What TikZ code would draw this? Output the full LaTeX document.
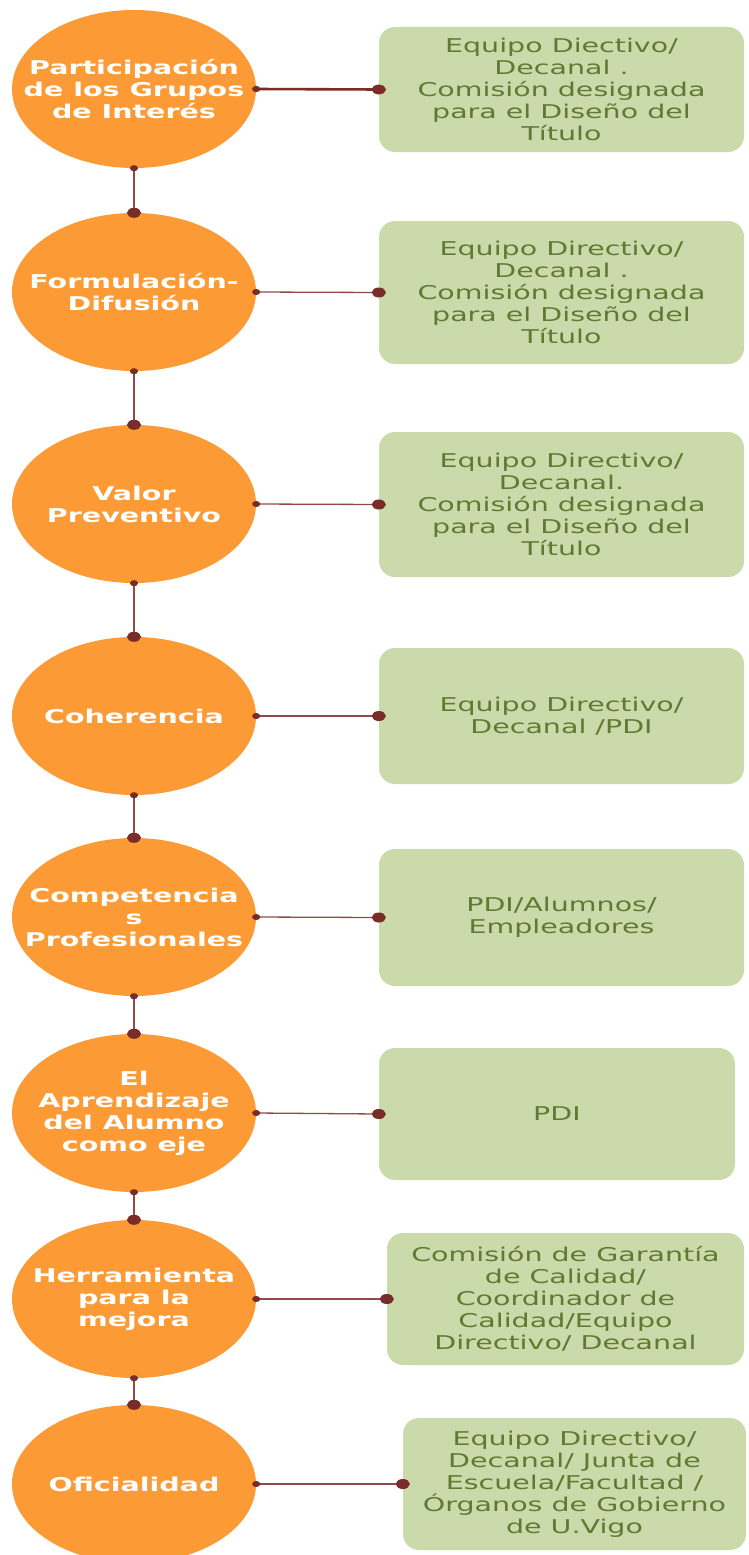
\documentclass[tikz,border=0pt]{standalone}
\usepackage{fontspec}
\setmainfont{DejaVu Sans}[FakeStretch=1.5]
\usetikzlibrary{shapes.geometric,arrows.meta}
\definecolor{stageorange}{RGB}{252,155,54}
\definecolor{rolegreen}{RGB}{203,218,170}
\definecolor{roletext}{RGB}{95,122,50}
\definecolor{dotbrown}{RGB}{122,44,40}
\definecolor{linkbrown}{RGB}{145,75,70}

\begin{document}
\begin{tikzpicture}[x=1pt,y=-1pt]
\tikzstyle{stage}=[ellipse,fill=stageorange,minimum width=244pt,minimum height=158pt,inner xsep=-30pt,inner ysep=0pt,text=white,font=\fontsize{19}{22}\selectfont\bfseries,align=center]
\tikzstyle{role}=[rectangle,rounded corners=16pt,fill=rolegreen,inner sep=0pt,text=roletext,font=\fontsize{19}{22}\selectfont,align=center]
\tikzstyle{link}=[draw=linkbrown,line width=1.3pt,arrows={Circle[length=8pt,width=6pt,color=dotbrown]-Circle[length=14pt,width=10pt,color=dotbrown]},shorten <=-4pt,shorten >=-7pt]
\tikzstyle{drop}=[draw=linkbrown,line width=1.3pt,arrows={Circle[length=6pt,width=8pt,color=dotbrown]-Circle[length=10pt,width=14pt,color=dotbrown]},shorten <=-3pt,shorten >=-5pt]
\useasboundingbox (0,0) rectangle (748,1555);
\node [stage] (s1) at (134,89) {Participación\\de los Grupos\\de Interés};
\node [stage] (s2) at (134,292) {Formulación-\\Difusión};
\node [stage] (s3) at (134,504) {Valor\\Preventivo};
\node [stage] (s4) at (134,716) {Coherencia};
\node [stage] (s5) at (134,917) {Competencia\\s\\Profesionales};
\node [stage] (s6) at (134,1113) {El\\Aprendizaje\\del Alumno\\como eje};
\node [stage] (s7) at (134,1299) {Herramienta\\para la\\mejora};
\node [stage] (s8) at (134,1484) {Oficialidad};
\node [role,minimum width=365pt,minimum height=125pt] (r1) at (561.5,89.5) {Equipo Diectivo/\\Decanal .\\Comisión designada\\para el Diseño del\\Título};
\node [role,minimum width=365pt,minimum height=143pt] (r2) at (561.5,292.5) {Equipo Directivo/\\Decanal .\\Comisión designada\\para el Diseño del\\Título};
\node [role,minimum width=365pt,minimum height=145pt] (r3) at (561.5,504.5) {Equipo Directivo/\\Decanal.\\Comisión designada\\para el Diseño del\\Título};
\node [role,minimum width=365pt,minimum height=136pt] (r4) at (561.5,716) {Equipo Directivo/\\Decanal /PDI};
\node [role,minimum width=365pt,minimum height=137pt] (r5) at (561.5,917.5) {PDI/Alumnos/\\Empleadores};
\node [role,minimum width=356pt,minimum height=132pt] (r6) at (557,1114) {PDI};
\node [role,minimum width=357pt,minimum height=132pt] (r7) at (565.5,1299) {Comisión de Garantía\\de Calidad/\\Coordinador de\\Calidad/Equipo\\Directivo/ Decanal};
\node [role,minimum width=343pt,minimum height=132pt] (r8) at (574.5,1484) {Equipo Directivo/\\Decanal/ Junta de\\Escuela/Facultad /\\Órganos de Gobierno\\de U.Vigo};
\draw [link,line width=2.6pt,draw=dotbrown] (s1.east) -- (r1.west);
\draw [link] (s2.east) -- (r2.west);
\draw [link] (s3.east) -- (r3.west);
\draw [link] (s4.east) -- (r4.west);
\draw [link] (s5.east) -- (r5.west);
\draw [link] (s6.east) -- (r6.west);
\draw [link] (s7.east) -- (r7.west);
\draw [link] (s8.east) -- (r8.west);
\draw [drop] (s1.south) -- (s2.north);
\draw [drop] (s2.south) -- (s3.north);
\draw [drop] (s3.south) -- (s4.north);
\draw [drop] (s4.south) -- (s5.north);
\draw [drop] (s5.south) -- (s6.north);
\draw [drop] (s6.south) -- (s7.north);
\draw [drop] (s7.south) -- (s8.north);
\end{tikzpicture}
\end{document}
